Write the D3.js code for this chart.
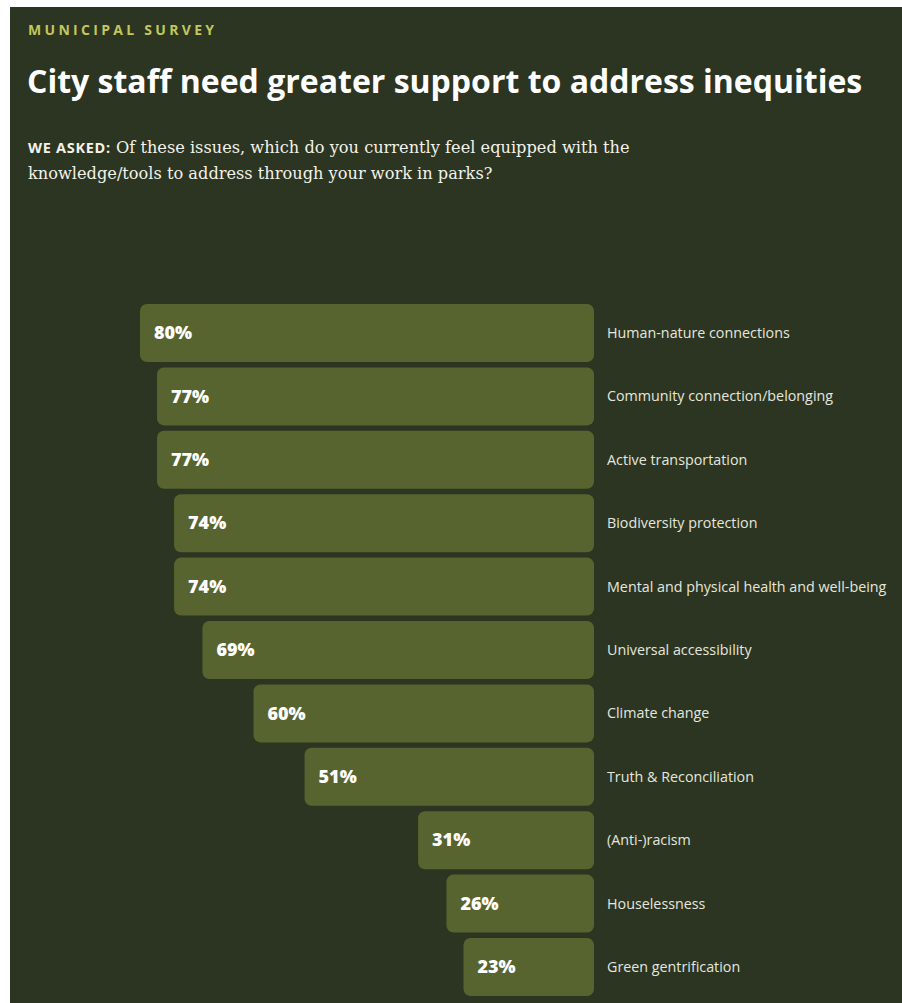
<!DOCTYPE html>
<html>
<head>
<meta charset="utf-8">
<script src="https://cdn.jsdelivr.net/npm/d3@7"></script>
<style>
  body { margin: 0; background: #fff; }
</style>
</head>
<body>
<div id="chart"></div>
<script>
// survey answers, top to bottom
var categories = [
  "Human-nature connections",
  "Community connection/belonging",
  "Active transportation",
  "Biodiversity protection",
  "Mental and physical health and well-being",
  "Universal accessibility",
  "Climate change",
  "Truth & Reconciliation",
  "(Anti-)racism",
  "Houselessness",
  "Green gentrification"
];
var values = [80, 77, 77, 74, 74, 69, 60, 51, 31, 26, 23];

const width = 902, height = 1003;
const bg = "#2b3521", barColor = "#57642f";

var svg = d3.select("#chart").append("svg")
  .attr("width", width)
  .attr("height", height);

svg.append("rect")
  .attr("x", 10).attr("y", 7)
  .attr("width", width - 10).attr("height", height - 7)
  .attr("fill", bg);

// header
svg.append("text")
  .attr("x", 28).attr("y", 35)
  .attr("fill", "#c3c65b")
  .style("font", "700 14px 'Open Sans'")
  .style("letter-spacing", "3.3px")
  .text("MUNICIPAL SURVEY");

svg.append("text")
  .attr("x", 27).attr("y", 93)
  .attr("fill", "#fff")
  .style("font", "700 32px 'Open Sans'")
  .text("City staff need greater support to address inequities");

var q = svg.append("text")
  .attr("fill", "#f2f2ea")
  .style("font", "16.2px 'DejaVu Serif'");
var l1 = q.append("tspan").attr("x", 28).attr("y", 153);
l1.append("tspan").style("font", "700 14.5px 'Open Sans'").style("letter-spacing", "0.7px").text("WE ASKED:");
l1.append("tspan").text(" Of these issues, which do you currently feel equipped with the");
q.append("tspan").attr("x", 28).attr("y", 179)
  .text("knowledge/tools to address through your work in parks?");

// scales
var x_scale = d3.scaleLinear().domain([0, 100]).range([594, 26.5]);
var y_scale = d3.scaleBand().domain(categories).range([304, 996]).paddingInner(0.085).paddingOuter(0);

var rows = svg.append("g").selectAll("g")
  .data(categories)
  .join("g")
  .attr("transform", d => `translate(0,${y_scale(d)})`);

rows.append("rect")
  .attr("x", (d, i) => x_scale(values[i]))
  .attr("width", (d, i) => x_scale(0) - x_scale(values[i]))
  .attr("height", y_scale.bandwidth())
  .attr("rx", 7)
  .attr("fill", barColor);

rows.append("text")
  .attr("x", (d, i) => x_scale(values[i]) + 14)
  .attr("y", y_scale.bandwidth() / 2)
  .attr("dy", "0.35em")
  .attr("fill", "#fff")
  .style("font", "800 18px 'Open Sans'")
  .text((d, i) => values[i] + "%");

rows.append("text")
  .attr("x", 607)
  .attr("y", y_scale.bandwidth() / 2)
  .attr("dy", "0.35em")
  .attr("fill", "#e6e6de")
  .style("font", "14.3px 'Open Sans'")
  .text(d => d);
</script>
</body>
</html>
